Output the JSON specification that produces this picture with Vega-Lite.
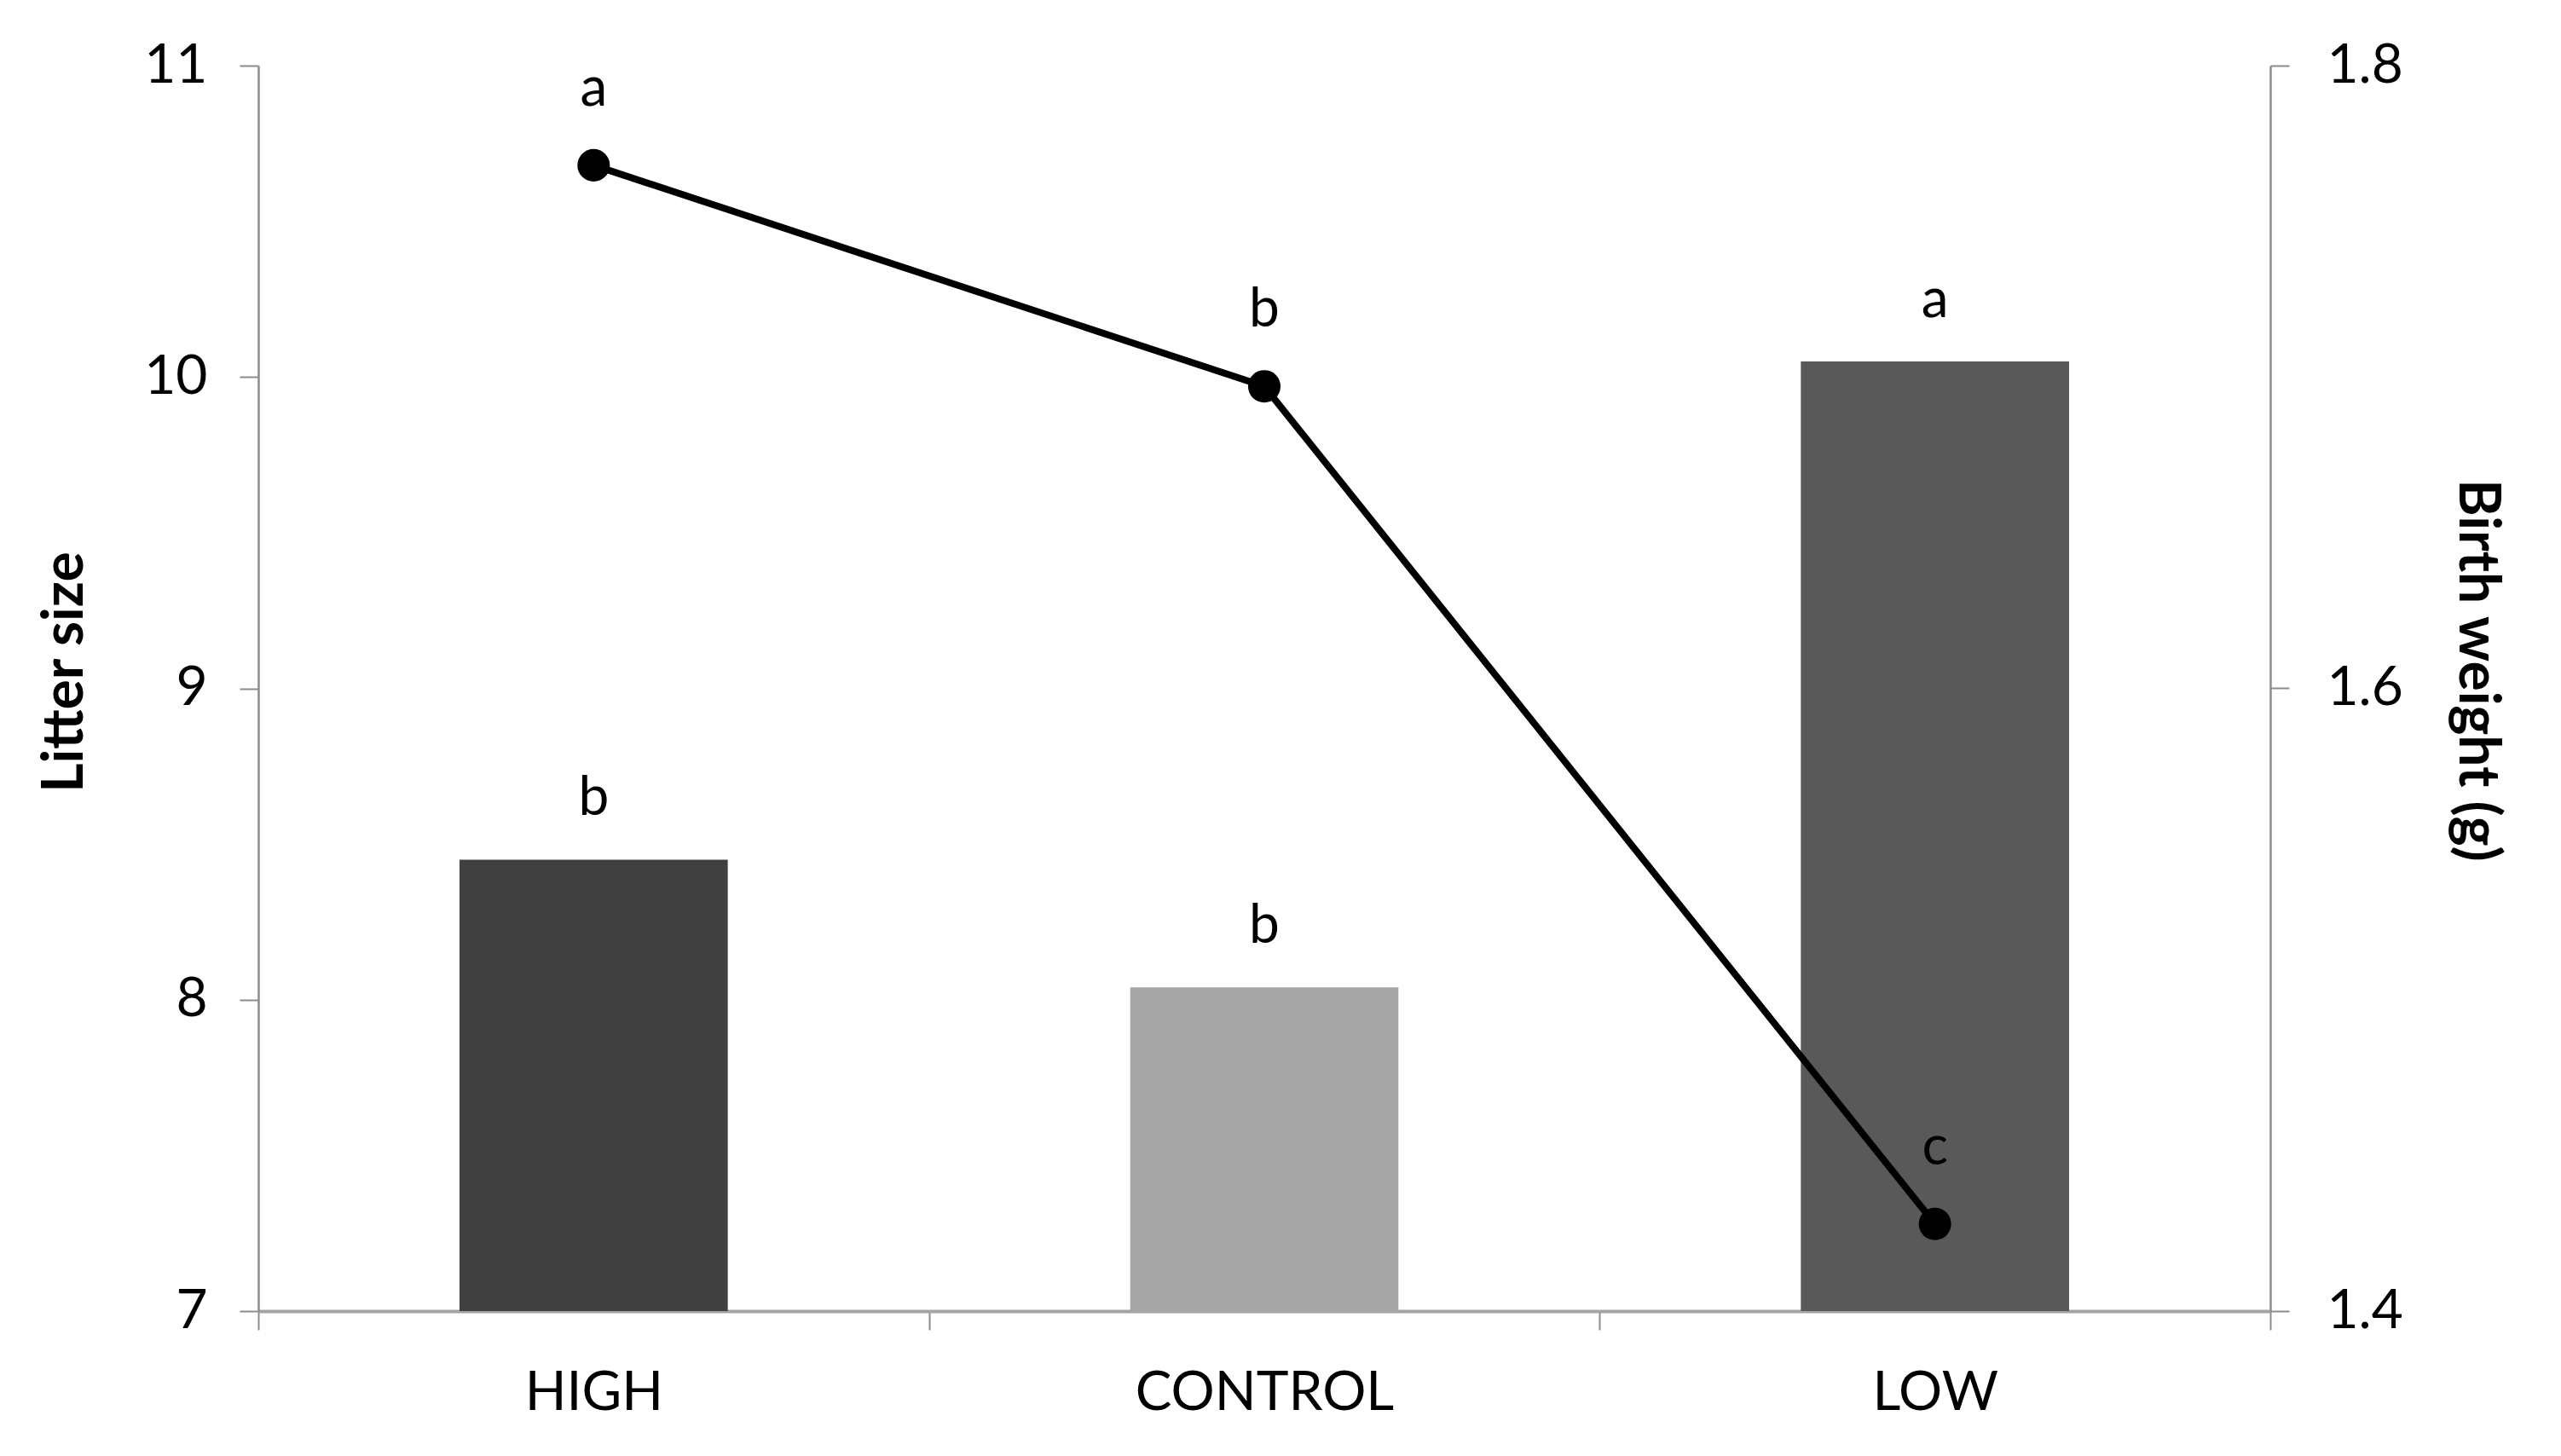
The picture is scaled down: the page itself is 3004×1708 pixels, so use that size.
{
  "$schema": "https://vega.github.io/schema/vega-lite/v6.json",
  "width": 2360,
  "height": 1461,
  "autosize": {"type": "none"},
  "padding": {"left": 303, "top": 77, "right": 341, "bottom": 170},
  "background": "white",
  "config": {
    "view": {"stroke": null},
    "font": "Lato",
    "axis": {"grid": false, "labelFont": "Lato", "titleFont": "Lato", "labelColor": "#000000", "titleColor": "#000000", "labelLimit": 0}
  },
  "data": {
    "values": [
      {"group": "HIGH", "litter": 8.45, "litter_sig": "b", "weight": 1.768, "weight_sig": "a"},
      {"group": "CONTROL", "litter": 8.04, "litter_sig": "b", "weight": 1.697, "weight_sig": "b"},
      {"group": "LOW", "litter": 10.05, "litter_sig": "a", "weight": 1.428, "weight_sig": "c"}
    ]
  },
  "encoding": {
    "x": {
      "field": "group",
      "type": "nominal",
      "sort": ["HIGH", "CONTROL", "LOW"],
      "scale": {"paddingInner": 0, "paddingOuter": 0},
      "axis": {
        "title": null,
        "labelAngle": 0,
        "labelFontSize": 64,
        "labelPadding": 42,
        "labelLimit": 0,
        "tickBand": "extent",
        "tickSize": 22,
        "tickWidth": 2,
        "tickColor": "#8c8c8c",
        "domainColor": "#a3a3a3",
        "domainWidth": 4
      }
    }
  },
  "layer": [
    {
      "encoding": {
        "y": {
          "field": "litter",
          "type": "quantitative",
          "scale": {"domain": [7, 11], "nice": false, "zero": false},
          "axis": {
            "title": "Litter size",
            "titleFontSize": 66,
            "titleFontWeight": "bold",
            "titlePadding": 58,
            "titleY": 711,
            "values": [7, 8, 9, 10, 11],
            "labelFontSize": 64,
            "labelPadding": 38,
            "tickSize": 22,
            "tickWidth": 2,
            "tickColor": "#8c8c8c",
            "domainColor": "#8c8c8c",
            "domainWidth": 2.5
          }
        }
      },
      "layer": [
        {
          "mark": {"type": "bar", "width": {"band": 0.4}},
          "encoding": {
            "y2": {"datum": 7},
            "color": {
              "field": "group",
              "type": "nominal",
              "scale": {"domain": ["HIGH", "CONTROL", "LOW"], "range": ["#404040", "#a6a6a6", "#595959"]},
              "legend": null
            }
          }
        },
        {
          "mark": {"type": "text", "fontSize": 64, "font": "Lato", "baseline": "alphabetic", "dy": -52, "color": "#000000"},
          "encoding": {"text": {"field": "litter_sig"}}
        }
      ]
    },
    {
      "encoding": {
        "y": {
          "field": "weight",
          "type": "quantitative",
          "scale": {"domain": [1.4, 1.8], "nice": false, "zero": false},
          "axis": {
            "orient": "right",
            "title": "Birth weight (g)",
            "titleFontSize": 66,
            "titleFontWeight": "bold",
            "titlePadding": 52,
            "titleY": 709,
            "values": [1.4, 1.6, 1.8],
            "format": ".1f",
            "labelFontSize": 64,
            "labelPadding": 44,
            "tickSize": 22,
            "tickWidth": 2,
            "tickColor": "#8c8c8c",
            "domainColor": "#8c8c8c",
            "domainWidth": 2.5
          }
        }
      },
      "layer": [
        {
          "mark": {"type": "line", "color": "#000000", "strokeWidth": 8},
          "encoding": {}
        },
        {
          "mark": {"type": "point", "filled": true, "color": "#000000", "size": 1450, "opacity": 1},
          "encoding": {}
        },
        {
          "mark": {"type": "text", "fontSize": 64, "font": "Lato", "baseline": "alphabetic", "dy": -70, "color": "#000000"},
          "encoding": {"text": {"field": "weight_sig"}}
        }
      ]
    }
  ],
  "resolve": {"scale": {"y": "independent"}}
}
